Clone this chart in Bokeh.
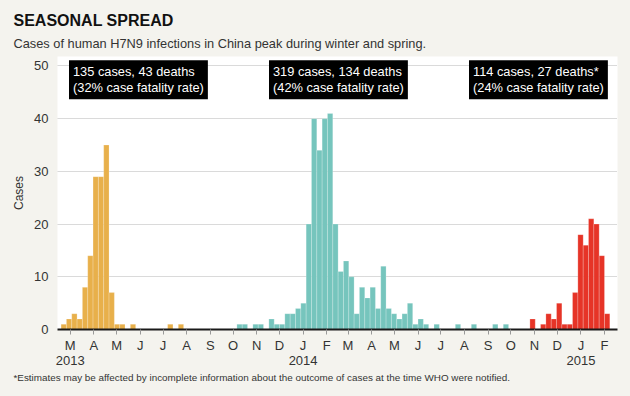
import pandas as pd
from bokeh.plotting import figure
from bokeh.models import Range1d, FixedTicker, DatetimeAxis, Label, Title, ColumnDataSource
from bokeh.embed import file_html
from bokeh.resources import INLINE

# ---------------- data (weekly confirmed cases) ----------------
wave1_start = "2013-02-17"
wave1_cases = [1, 2, 3, 2, 8, 14, 29, 29, 35, 7, 1, 1, 0, 1, 0, 0, 0, 0, 0, 0, 1, 0, 1]
wave2_start = "2013-10-06"
wave2_cases = [1, 1, 0, 1, 1, 0, 2, 1, 1, 3, 3, 4, 5, 20, 40, 34, 40, 41, 20, 11,
               13, 10, 3, 8, 6, 8, 4, 12, 4, 3, 2, 3, 5, 1, 2, 1, 0, 1, 0, 0,
               0, 1, 0, 0, 1, 0, 0, 0, 1, 0, 1]
wave3_start = "2014-10-26"
wave3_cases = [2, 0, 1, 3, 2, 5, 1, 1, 7, 18, 16, 21, 20, 14, 3]

wave_colors = ["#e8b04b", "#76c5bd", "#e63427"]

month_labels = ["M", "A", "M", "J", "J", "A", "S", "O", "N", "D", "J", "F"] * 2
month_first = "2013-03-01"
year_labels = ["2013", "2014", "2015"]
year_dates = ["2013-03-01", "2014-01-01", "2015-01-01"]
y_ticks = [0, 10, 20, 30, 40, 50]

box_texts = [
    "135 cases, 43 deaths\n(32% case fatality rate)",
    "319 cases, 134 deaths\n(42% case fatality rate)",
    "114 cases, 27 deaths*\n(24% case fatality rate)",
]
title_text = "SEASONAL SPREAD"
subtitle_text = "Cases of human H7N9 infections in China peak during winter and spring."
footnote_text = ("*Estimates may be affected by incomplete information about the outcome "
                 "of cases at the time WHO were notified.")

# ---------------- helpers ----------------
EPOCH = pd.Timestamp("1970-01-01")
def ms(ts):
    return float((pd.Timestamp(ts) - EPOCH) / pd.Timedelta("1ms"))

WEEK = 7 * 24 * 3600 * 1000.0

BG = "#f4f3ee"
FONT = "Liberation Sans"

p = figure(width=630, height=396, x_axis_type="datetime", title=None,
           x_range=Range1d(ms("2013-02-12 07:00"), ms("2015-02-18 02:00")),
           y_range=Range1d(0, 51.8),
           output_backend="svg", toolbar_location=None,
           min_border_left=57, min_border_right=13, min_border_top=56, min_border_bottom=67)

p.background_fill_color = "white"
p.border_fill_color = BG
p.outline_line_color = None

for start, cases, color in zip([wave1_start, wave2_start, wave3_start],
                               [wave1_cases, wave2_cases, wave3_cases], wave_colors):
    weeks = pd.date_range(start, periods=len(cases), freq="7D")
    src = ColumnDataSource(dict(x=[ms(w) + WEEK / 2 for w in weeks], top=cases))
    p.vbar(x="x", top="top", bottom=0, width=WEEK, source=src,
           fill_color=color, line_color="white", line_alpha=0.35, line_width=0.6)

# x axis: months
month_ms = [ms(d) for d in pd.date_range(month_first, periods=len(month_labels), freq="MS")]
xa = p.xaxis[0]
xa.ticker = FixedTicker(ticks=month_ms)
xa.major_label_overrides = {m: lab for m, lab in zip(month_ms, month_labels)}
xa.axis_line_color = "#1a1a1a"
xa.axis_line_width = 2
xa.major_tick_in = 0
xa.major_tick_out = 5
xa.major_tick_line_color = "#999999"
xa.minor_tick_line_color = None
xa.major_label_standoff = 3
xa.major_label_text_font = FONT
xa.major_label_text_font_size = "13px"
xa.major_label_text_color = "#333333"

# x axis: years
year_ms = [ms(d) for d in year_dates]
ya2 = DatetimeAxis(ticker=FixedTicker(ticks=year_ms),
                   major_label_overrides={m: lab for m, lab in zip(year_ms, year_labels)},
                   axis_line_color=None, major_tick_line_color=None, minor_tick_line_color=None,
                   major_tick_in=0, major_tick_out=0, major_label_standoff=0,
                   major_label_text_font=FONT, major_label_text_font_size="13px",
                   major_label_text_color="#333333")
p.add_layout(ya2, "below")

# y axis
yax = p.yaxis[0]
yax.ticker = FixedTicker(ticks=y_ticks)
yax.axis_line_color = None
yax.major_tick_line_color = None
yax.minor_tick_line_color = None
yax.major_label_standoff = 3
yax.major_label_text_font = FONT
yax.major_label_text_font_size = "13px"
yax.major_label_text_color = "#333333"
yax.axis_label = "Cases"
yax.axis_label_text_font = FONT
yax.axis_label_text_font_style = "normal"
yax.axis_label_text_font_size = "12px"
yax.axis_label_text_color = "#333333"
yax.axis_label_standoff = 5

p.xgrid.visible = False
p.ygrid.grid_line_color = "#b5b5b5"
p.ygrid.grid_line_dash = "1 1"
p.ygrid.grid_line_width = 1

# titles
p.add_layout(Title(text=subtitle_text, align="left", offset=-44, standoff=11,
                   text_font=FONT, text_font_style="normal", text_font_size="12.8px",
                   text_color="#333333"), "above")
p.add_layout(Title(text=title_text, align="left", offset=-44, standoff=0,
                   text_font=FONT, text_font_style="bold", text_font_size="16px",
                   text_color="#111111"), "above")
p.add_layout(Title(text=footnote_text, align="left", offset=-44, standoff=5,
                   text_font=FONT, text_font_style="normal", text_font_size="9.9px",
                   text_color="#333333"), "below")

# annotation boxes (screen units relative to the plot frame)
for bx, txt in zip([11.5, 211.5, 411.5], box_texts):
    p.add_layout(Label(x=bx, y=269.2, x_units="screen", y_units="screen", text=txt,
                       text_font=FONT, text_font_size="12.8px", text_color="white",
                       text_baseline="top", text_align="left", text_line_height=1.07,
                       background_fill_color="black", padding=4))

html = file_html(p, INLINE)
html = html.replace("</head>",
                    "<style>html, body { background-color: %s; }</style></head>" % BG, 1)
open("out.html", "w").write(html)
